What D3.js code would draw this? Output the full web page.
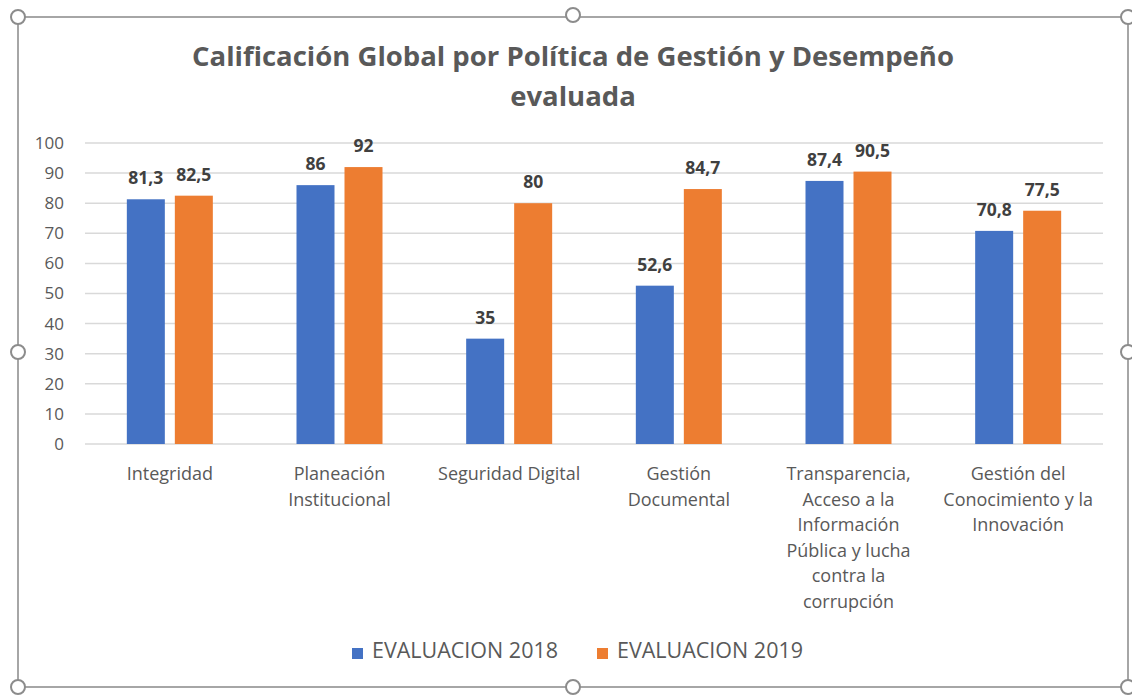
<!DOCTYPE html>
<html>
<head>
<meta charset="utf-8">
<script src="https://cdn.jsdelivr.net/npm/d3@7"></script>
<style>
  body { margin: 0; background: #fff; }
  svg { display: block; font-family: "Open Sans", Lato, sans-serif; }
</style>
</head>
<body>
<svg id="chart" width="1132" height="698"></svg>
<script>
const categories = [
    ["Integridad"],
    ["Planeación", "Institucional"],
    ["Seguridad Digital"],
    ["Gestión", "Documental"],
    ["Transparencia,", "Acceso a la", "Información", "Pública y lucha", "contra la", "corrupción"],
    ["Gestión del", "Conocimiento y la", "Innovación"]
]
const series = ["EVALUACION 2018", "EVALUACION 2019"]
const values2018 = [81.3, 86, 35, 52.6, 87.4, 70.8]
const values2019 = [82.5, 92, 80, 84.7, 90.5, 77.5]
const yTicks = [0, 10, 20, 30, 40, 50, 60, 70, 80, 90, 100]
const colors = ["#4472C4", "#ED7D31"]

const svg = d3.select("#chart")

// selection frame like the spreadsheet screenshot
const frame = { x0: 18, y0: 17, x1: 1128, y1: 687 }
svg.append("rect")
    .attr("x", frame.x0).attr("y", frame.y0)
    .attr("width", frame.x1 - frame.x0).attr("height", frame.y1 - frame.y0)
    .attr("fill", "none").attr("stroke", "#a6a6a6").attr("stroke-width", 2)

// title
svg.append("text")
    .attr("x", 573).attr("y", 66)
    .attr("text-anchor", "middle")
    .attr("font-size", 27.5).attr("font-weight", "bold").attr("fill", "#595959")
    .selectAll("tspan")
    .data(["Calificación Global por Política de Gestión y Desempeño", "evaluada"])
    .enter().append("tspan")
    .attr("x", 573)
    .attr("dy", (d, i) => i === 0 ? 0 : 40)
    .text(d => d)

const margin = { left: 85, right: 1103, top: 143, bottom: 444 }

let xScale = d3.scaleBand()
    .domain(d3.range(categories.length))
    .range([margin.left, margin.right])

let yScale = d3.scaleLinear()
    .domain([0, 100])
    .range([margin.bottom, margin.top])

// gridlines
svg.append("g")
    .selectAll("line")
    .data(yTicks)
    .enter().append("line")
    .attr("x1", margin.left).attr("x2", margin.right)
    .attr("y1", d => yScale(d)).attr("y2", d => yScale(d))
    .attr("stroke", "#d9d9d9").attr("stroke-width", 1.5)

// y axis labels
let yAxis = svg.append("g")
    .attr("transform", "translate(" + margin.left + ",0)")
    .call(d3.axisLeft(yScale).tickValues(yTicks).tickSize(0).tickPadding(21))
yAxis.select(".domain").remove()
yAxis.selectAll("text")
    .attr("font-family", "'Open Sans', Lato, sans-serif")
    .attr("font-size", 17).attr("fill", "#595959")

// bars
const barWidth = 38
const barGap = 10
const allSeries = [values2018, values2019]
const fmt = v => String(v).replace(".", ",")

allSeries.forEach((vals, s) => {
    let g = svg.append("g")
    let cx = i => xScale(i) + xScale.bandwidth() / 2 + (s === 0 ? -(barGap / 2 + barWidth) : barGap / 2)
    g.selectAll("rect")
        .data(vals)
        .enter().append("rect")
        .attr("x", (d, i) => cx(i))
        .attr("y", d => yScale(d))
        .attr("width", barWidth)
        .attr("height", d => yScale(0) - yScale(d))
        .attr("fill", colors[s])
    g.selectAll("text")
        .data(vals)
        .enter().append("text")
        .attr("x", (d, i) => cx(i) + barWidth / 2)
        .attr("y", d => yScale(d) - 15)
        .attr("text-anchor", "middle")
        .attr("font-size", 17.5).attr("font-weight", "bold").attr("fill", "#404040")
        .text(d => fmt(d))
})

// category labels
let catG = svg.append("g")
categories.forEach((lines, i) => {
    let t = catG.append("text")
        .attr("text-anchor", "middle")
        .attr("font-size", 18).attr("fill", "#595959")
        .attr("y", 480)
    lines.forEach((line, j) => {
        t.append("tspan")
            .attr("x", xScale(i) + xScale.bandwidth() / 2)
            .attr("dy", j === 0 ? 0 : 25.6)
            .text(line)
    })
})

// legend (condensed text like the original)
const legendX = [352, 597]
let legend = svg.selectAll(".legend")
    .data(series)
    .enter().append("g")
    .attr("transform", (d, i) => "translate(" + legendX[i] + ",658)")
legend.append("rect")
    .attr("x", 0).attr("y", -10)
    .attr("width", 11).attr("height", 11)
    .attr("fill", (d, i) => colors[i])
legend.append("text")
    .attr("x", 20).attr("y", 0)
    .attr("font-size", 21).attr("fill", "#595959")
    .attr("textLength", 186)
    .attr("lengthAdjust", "spacingAndGlyphs")
    .text(d => d)

// selection handles
const handles = [
    [frame.x0, frame.y0], [573, 15], [frame.x1, frame.y0],
    [frame.x0, 352], [frame.x1, 352],
    [frame.x0, frame.y1], [573, frame.y1], [frame.x1, frame.y1]
]
svg.append("g")
    .selectAll("circle")
    .data(handles)
    .enter().append("circle")
    .attr("cx", d => d[0]).attr("cy", d => d[1])
    .attr("r", 7)
    .attr("fill", "#fff").attr("stroke", "#8c8c8c").attr("stroke-width", 2)
</script>
</body>
</html>
